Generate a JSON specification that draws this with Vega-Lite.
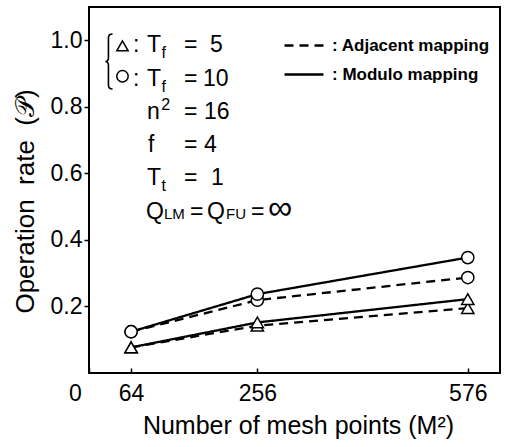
{
  "$schema": "https://vega.github.io/schema/vega-lite/v6.json",
  "width": 411,
  "height": 366,
  "autosize": {"type": "none"},
  "padding": {"left": 89, "top": 7, "right": 7, "bottom": 74},
  "background": "white",
  "config": {
    "view": {"stroke": "black", "strokeWidth": 2},
    "font": "Liberation Sans, sans-serif",
    "axis": {
      "domain": false,
      "grid": false,
      "labelColor": "black",
      "titleColor": "black",
      "tickColor": "black",
      "labelFont": "Liberation Sans, sans-serif",
      "titleFont": "Liberation Sans, sans-serif",
      "labelFontSize": 23,
      "titleFontSize": 25,
      "titleFontWeight": "normal"
    }
  },
  "datasets": {
    "rates": [
      {"M": 64, "rate": 0.077, "Tf": "5", "mapping": "Adjacent mapping"},
      {"M": 256, "rate": 0.142, "Tf": "5", "mapping": "Adjacent mapping"},
      {"M": 576, "rate": 0.195, "Tf": "5", "mapping": "Adjacent mapping"},
      {"M": 64, "rate": 0.077, "Tf": "5", "mapping": "Modulo mapping"},
      {"M": 256, "rate": 0.152, "Tf": "5", "mapping": "Modulo mapping"},
      {"M": 576, "rate": 0.222, "Tf": "5", "mapping": "Modulo mapping"},
      {"M": 64, "rate": 0.124, "Tf": "10", "mapping": "Adjacent mapping"},
      {"M": 256, "rate": 0.219, "Tf": "10", "mapping": "Adjacent mapping"},
      {"M": 576, "rate": 0.287, "Tf": "10", "mapping": "Adjacent mapping"},
      {"M": 64, "rate": 0.124, "Tf": "10", "mapping": "Modulo mapping"},
      {"M": 256, "rate": 0.237, "Tf": "10", "mapping": "Modulo mapping"},
      {"M": 576, "rate": 0.347, "Tf": "10", "mapping": "Modulo mapping"}
    ],
    "symbols": [
      {"M": 50.9, "rate": 0.983, "Tf": "5"},
      {"M": 50.9, "rate": 0.892, "Tf": "10"}
    ],
    "main": [
      {"M": 66.9, "rate": 1.0, "t": ":"},
      {"M": 88.2, "rate": 1.0, "t": "T"},
      {"M": 144.5, "rate": 1.0, "t": "="},
      {"M": 184, "rate": 1.0, "t": "5"},
      {"M": 66.9, "rate": 0.9, "t": ":"},
      {"M": 88.2, "rate": 0.9, "t": "T"},
      {"M": 144.5, "rate": 0.9, "t": "="},
      {"M": 173.4, "rate": 0.9, "t": "10"},
      {"M": 88.2, "rate": 0.8, "t": "n"},
      {"M": 144.5, "rate": 0.8, "t": "="},
      {"M": 174.9, "rate": 0.8, "t": "16"},
      {"M": 89.7, "rate": 0.7, "t": "f"},
      {"M": 144.5, "rate": 0.7, "t": "="},
      {"M": 175, "rate": 0.7, "t": "4"},
      {"M": 88.2, "rate": 0.6, "t": "T"},
      {"M": 144.5, "rate": 0.6, "t": "="},
      {"M": 185.5, "rate": 0.6, "t": "1"},
      {"M": 86.7, "rate": 0.5, "t": "Q"},
      {"M": 153.6, "rate": 0.5, "t": "="},
      {"M": 179.4, "rate": 0.5, "t": "Q"},
      {"M": 246.4, "rate": 0.5, "t": "="}
    ],
    "big": [
      {"M": 272.3, "rate": 0.5, "t": "∞"}
    ],
    "sub": [
      {"M": 110.2, "rate": 1.0, "t": "f"},
      {"M": 110.2, "rate": 0.9, "t": "f"},
      {"M": 110.2, "rate": 0.6, "t": "t"}
    ],
    "sup": [
      {"M": 109.8, "rate": 0.8, "t": "2"}
    ],
    "small": [
      {"M": 114, "rate": 0.5, "t": "LM"},
      {"M": 208.3, "rate": 0.5, "t": "FU"}
    ],
    "brace": [
      {"M": 30.4, "rate": 0.936}
    ]
  },
  "layer": [
    {
      "data": {"name": "rates"},
      "mark": {"type": "line", "color": "black", "strokeWidth": 2.3},
      "encoding": {
        "x": {
          "field": "M", "type": "quantitative",
          "scale": {"domain": [0, 625], "nice": false, "zero": false},
          "axis": {
            "title": "Number of mesh points (M²)",
            "values": [0, 64, 256, 576],
            "tickSize": -5,
            "tickWidth": 1.5,
            "labelPadding": 32,
            "labelBaseline": "alphabetic",
            "labelOffset": {"condition": {"test": "datum.value === 0", "value": -14}, "value": 0},
            "labelFlush": false,
            "labelOverlap": false,
            "titleBaseline": "alphabetic",
            "titleX": 209,
            "titleY": 60,
            "titleAnchor": "middle"
          }
        },
        "y": {
          "field": "rate", "type": "quantitative",
          "scale": {"domain": [0, 1.1], "nice": false, "zero": false},
          "axis": {
            "title": "Operation\u00a0\u00a0rate\u00a0\u00a0(𝒫)",
            "titleFontSize": 26,
            "values": [0.2, 0.4, 0.6, 0.8, 1.0],
            "format": ".1f",
            "tickSize": 5,
            "tickWidth": 1.5,
            "labelPadding": 2,
            "labelFlush": false,
            "labelOverlap": false,
            "titleBaseline": "alphabetic",
            "titleX": -56,
            "titleY": 194,
            "titleAnchor": "middle"
          }
        },
        "strokeDash": {
          "field": "mapping", "type": "nominal",
          "scale": {"domain": ["Adjacent mapping", "Modulo mapping"], "range": [[9, 6], [1, 0]]},
          "legend": {
            "orient": "none",
            "legendX": 194,
            "legendY": 17.5,
            "title": null,
            "padding": 0,
            "symbolType": "stroke",
            "symbolSize": 1521,
            "symbolStrokeWidth": 2.5,
            "symbolStrokeColor": "black",
            "labelExpr": "': ' + datum.label",
            "labelFont": "Liberation Sans, sans-serif",
            "labelFontSize": 17,
            "labelFontWeight": "bold",
            "labelColor": "black",
            "labelLimit": 400,
            "labelOffset": 7,
            "rowPadding": -7
          }
        },
        "detail": {"field": "Tf", "type": "nominal"}
      }
    },
    {
      "data": {"name": "rates"},
      "mark": {"type": "point", "filled": false, "fill": "white", "fillOpacity": 1, "stroke": "black", "strokeWidth": 1.5, "size": 150, "opacity": 1},
      "encoding": {
        "x": {"field": "M", "type": "quantitative"},
        "y": {"field": "rate", "type": "quantitative"},
        "shape": {
          "field": "Tf", "type": "nominal",
          "scale": {"domain": ["5", "10"], "range": ["triangle-up", "circle"]},
          "legend": null
        }
      }
    },
    {
      "data": {"name": "symbols"},
      "mark": {"type": "point", "filled": false, "fill": "white", "fillOpacity": 1, "stroke": "black", "strokeWidth": 1.5, "size": 130, "opacity": 1},
      "encoding": {
        "x": {"field": "M", "type": "quantitative"},
        "y": {"field": "rate", "type": "quantitative"},
        "shape": {"field": "Tf", "type": "nominal", "legend": null}
      }
    },
    {
      "data": {"name": "brace"},
      "mark": {
        "type": "point",
        "shape": "M 0.13,-1 C 0.01,-1 -0.02,-0.95 -0.02,-0.85 L -0.02,-0.15 C -0.02,-0.05 -0.06,0 -0.13,0 C -0.06,0 -0.02,0.05 -0.02,0.15 L -0.02,0.85 C -0.02,0.95 0.01,1 0.13,1",
        "size": 3025,
        "filled": false,
        "fill": null,
        "stroke": "black",
        "strokeWidth": 1.6,
        "opacity": 1
      },
      "encoding": {
        "x": {"field": "M", "type": "quantitative"},
        "y": {"field": "rate", "type": "quantitative"}
      }
    },
    {
      "data": {"name": "main"},
      "mark": {"type": "text", "align": "left", "baseline": "alphabetic", "dy": 12, "fontSize": 23, "color": "black"},
      "encoding": {
        "x": {"field": "M", "type": "quantitative"},
        "y": {"field": "rate", "type": "quantitative"},
        "text": {"field": "t"}
      }
    },
    {
      "data": {"name": "big"},
      "mark": {"type": "text", "align": "left", "baseline": "alphabetic", "dy": 12, "fontSize": 34, "color": "black"},
      "encoding": {
        "x": {"field": "M", "type": "quantitative"},
        "y": {"field": "rate", "type": "quantitative"},
        "text": {"field": "t"}
      }
    },
    {
      "data": {"name": "sub"},
      "mark": {"type": "text", "align": "left", "baseline": "alphabetic", "dy": 18, "fontSize": 16, "color": "black"},
      "encoding": {
        "x": {"field": "M", "type": "quantitative"},
        "y": {"field": "rate", "type": "quantitative"},
        "text": {"field": "t"}
      }
    },
    {
      "data": {"name": "sup"},
      "mark": {"type": "text", "align": "left", "baseline": "alphabetic", "dy": 3, "fontSize": 16, "color": "black"},
      "encoding": {
        "x": {"field": "M", "type": "quantitative"},
        "y": {"field": "rate", "type": "quantitative"},
        "text": {"field": "t"}
      }
    },
    {
      "data": {"name": "small"},
      "mark": {"type": "text", "align": "left", "baseline": "alphabetic", "dy": 12, "fontSize": 15, "color": "black"},
      "encoding": {
        "x": {"field": "M", "type": "quantitative"},
        "y": {"field": "rate", "type": "quantitative"},
        "text": {"field": "t"}
      }
    }
  ]
}
